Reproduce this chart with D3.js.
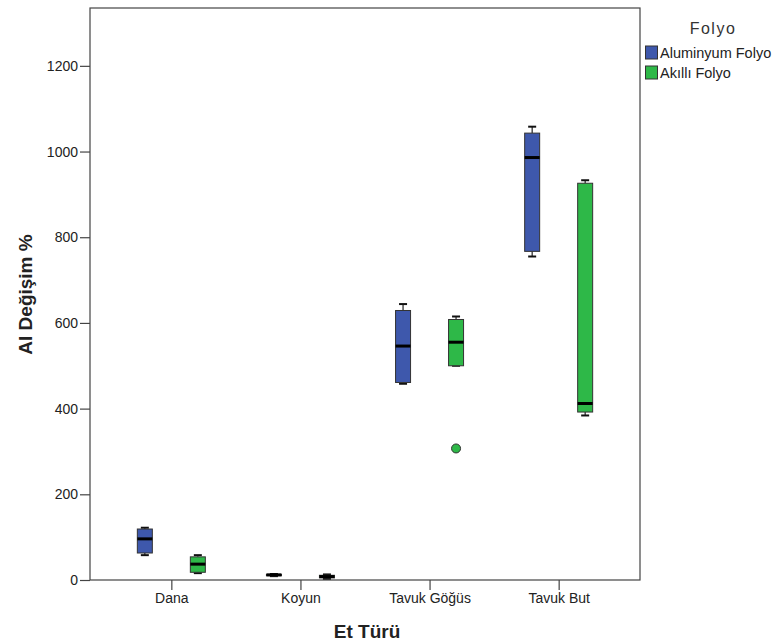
<!DOCTYPE html>
<html>
<head>
<meta charset="utf-8">
<script src="https://cdn.jsdelivr.net/npm/d3@7"></script>
<style>
  body { margin: 0; background: #fff; }
  svg { display: block; font-family: "Liberation Sans", Arial, sans-serif; }
</style>
</head>
<body>
<svg id="chart" width="780" height="644"></svg>
<script>
// Meat types on the x axis
const categories = ["Dana", "Koyun", "Tavuk Göğüs", "Tavuk But"];
// Foil groups
const groups = ["Aluminyum Folyo", "Akıllı Folyo"];
const groupColors = ["#3e58ac", "#2eb848"];

// Five-number summaries per category: [min, q1, median, q3, max]
const aluminyumStats = [
  [58, 63, 96, 119, 122],
  [9, 10, 12, 13, 14],
  [458, 461, 546, 629, 644],
  [755, 767, 986, 1043, 1058]
];
const akilliStats = [
  [16, 18, 37, 54, 58],
  [3, 5, 8, 11, 13],
  [500, 500, 555, 608, 615],
  [384, 392, 412, 926, 933]
];
// Outliers: [categoryIndex, groupIndex, value]
const outliers = [[2, 1, 307]];

const yTicks = [0, 200, 400, 600, 800, 1000, 1200];

const svg = d3.select("#chart");
const plotL = 90, plotR = 640, plotT = 8, plotB = 580;
const fontFam = "'Liberation Sans', Arial, sans-serif";

const x = d3.scalePoint().domain(categories).range([plotL, plotR]).padding(0.63);
const y = d3.scaleLinear().domain([0, 1335]).range([plotB, plotT]);
const offset = d3.scaleOrdinal().domain(groups).range([-26.5, 26.5]);
const boxW = 15, capW = 8;

// Plot frame
svg.append("rect")
  .attr("x", plotL).attr("y", plotT)
  .attr("width", plotR - plotL).attr("height", plotB - plotT)
  .attr("fill", "none").attr("stroke", "#444").attr("stroke-width", 1.2);

// Y axis
const yAxis = svg.append("g")
  .attr("transform", `translate(${plotL},0)`)
  .call(d3.axisLeft(y).tickValues(yTicks).tickFormat(d3.format("d")).tickSize(10).tickPadding(2));
yAxis.select(".domain").remove();
yAxis.selectAll(".tick line").attr("stroke", "#444").attr("stroke-width", 1.2);
yAxis.selectAll(".tick text").attr("fill", "#222").style("font-size", "14px")
  .style("font-family", fontFam);

// X axis
const xAxis = svg.append("g")
  .attr("transform", `translate(0,${plotB})`)
  .call(d3.axisBottom(x).tickSize(10).tickPadding(3));
xAxis.select(".domain").remove();
xAxis.selectAll(".tick line").attr("stroke", "#444").attr("stroke-width", 1.2);
xAxis.selectAll(".tick text").attr("fill", "#222").style("font-size", "14px")
  .style("font-family", fontFam);

// Axis titles
svg.append("text")
  .attr("x", 367).attr("y", 638)
  .attr("text-anchor", "middle")
  .style("font-size", "19px").style("font-weight", "bold").attr("fill", "#222")
  .text("Et Türü");
svg.append("text")
  .attr("transform", `translate(32,294.5) rotate(-90)`)
  .attr("text-anchor", "middle")
  .style("font-size", "19px").style("font-weight", "bold").attr("fill", "#222")
  .text("Al Değişim %");

// Box plots
const series = [aluminyumStats, akilliStats];
series.forEach((stats, gi) => {
  const g = svg.append("g");
  stats.forEach((s, ci) => {
    const cx = x(categories[ci]) + offset(groups[gi]);
    const [mn, q1, md, q3, mx] = s;
    const bg = g.append("g");
    // whiskers
    bg.append("line").attr("x1", cx).attr("x2", cx).attr("y1", y(mx)).attr("y2", y(q3))
      .attr("stroke", "#222").attr("stroke-width", 1.2);
    bg.append("line").attr("x1", cx).attr("x2", cx).attr("y1", y(q1)).attr("y2", y(mn))
      .attr("stroke", "#222").attr("stroke-width", 1.2);
    [mn, mx].forEach(v => {
      bg.append("line").attr("x1", cx - capW / 2).attr("x2", cx + capW / 2)
        .attr("y1", y(v)).attr("y2", y(v))
        .attr("stroke", "#111").attr("stroke-width", 2);
    });
    // box
    bg.append("rect")
      .attr("x", cx - boxW / 2).attr("y", y(q3))
      .attr("width", boxW).attr("height", Math.max(1, y(q1) - y(q3)))
      .attr("fill", groupColors[gi]).attr("stroke", "#333").attr("stroke-width", 1);
    // median
    bg.append("line").attr("x1", cx - boxW / 2).attr("x2", cx + boxW / 2)
      .attr("y1", y(md)).attr("y2", y(md))
      .attr("stroke", "#000").attr("stroke-width", 3);
  });
});

// Outlier points
svg.append("g").selectAll("circle").data(outliers).join("circle")
  .attr("cx", d => x(categories[d[0]]) + offset(groups[d[1]]))
  .attr("cy", d => y(d[2]))
  .attr("r", 4.5)
  .attr("fill", d => groupColors[d[1]])
  .attr("stroke", "#333").attr("stroke-width", 1);

// Legend
const legend = svg.append("g");
legend.append("text")
  .attr("x", 713).attr("y", 34)
  .attr("text-anchor", "middle")
  .style("font-size", "16px").style("font-weight", "normal")
  .style("letter-spacing", "1.5px").attr("fill", "#333")
  .text("Folyo");
groups.forEach((name, i) => {
  const ly = 46 + i * 20;
  legend.append("rect")
    .attr("x", 645.5).attr("y", ly).attr("width", 12).attr("height", 13)
    .attr("fill", groupColors[i]).attr("stroke", "#333").attr("stroke-width", 1);
  legend.append("text")
    .attr("x", 660).attr("y", ly + 12)
    .style("font-size", "14.5px").attr("fill", "#222")
    .text(name);
});
</script>
</body>
</html>
